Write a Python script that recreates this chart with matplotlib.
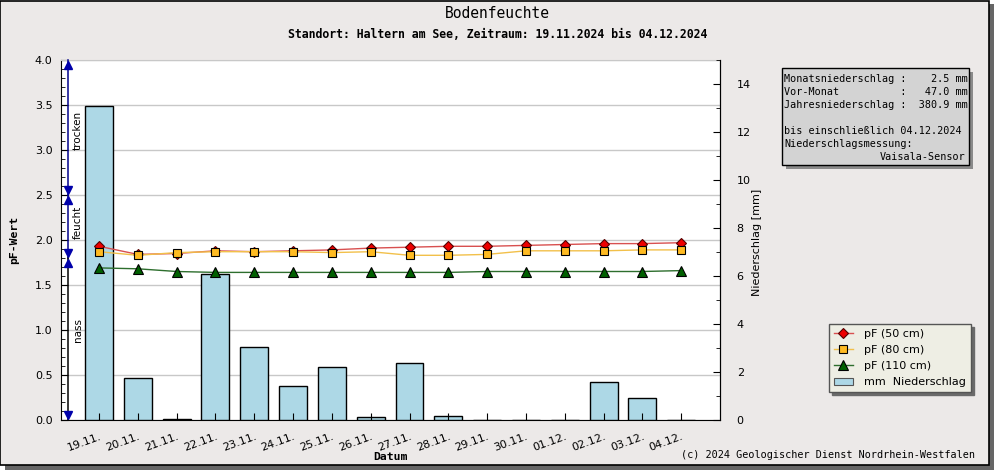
import matplotlib
matplotlib.use('Agg')
import matplotlib.pyplot as plt
from matplotlib.patches import Rectangle, Patch
from matplotlib.ticker import MultipleLocator
from matplotlib.lines import Line2D

# ---------------- data ----------------
dates = ['19.11.', '20.11.', '21.11.', '22.11.', '23.11.', '24.11.', '25.11.', '26.11.',
         '27.11.', '28.11.', '29.11.', '30.11.', '01.12.', '02.12.', '03.12.', '04.12.']
precip_mm = [13.07, 1.74, 0.04, 6.07, 3.03, 1.40, 2.20, 0.11,
             2.36, 0.15, 0.0, 0.0, 0.0, 1.6, 0.9, 0.0]
pf_50 = [1.93, 1.84, 1.85, 1.88, 1.87, 1.88, 1.89, 1.91,
         1.92, 1.93, 1.93, 1.94, 1.95, 1.96, 1.96, 1.97]
pf_80 = [1.87, 1.83, 1.86, 1.87, 1.87, 1.87, 1.86, 1.87,
         1.83, 1.83, 1.84, 1.88, 1.88, 1.88, 1.89, 1.89]
pf_110 = [1.69, 1.68, 1.65, 1.64, 1.64, 1.64, 1.64, 1.64,
          1.64, 1.64, 1.65, 1.65, 1.65, 1.65, 1.65, 1.66]
info_lines = ['Monatsniederschlag :    2.5 mm',
              'Vor-Monat          :   47.0 mm',
              'Jahresniederschlag :  380.9 mm',
              '',
              'bis einschließlich 04.12.2024',
              'Niederschlagsmessung:']
info_right = 'Vaisala-Sensor'
classes = [('trocken', 2.5, 4.0, 3.22), ('feucht', 1.8, 2.5, 2.2), ('nass', 0.0, 1.8, 1.0)]

W, H = 995, 470
BG = '#ECE9E8'
MONO = 'DejaVu Sans Mono'
SANS = 'DejaVu Sans'

fig = plt.figure(figsize=(W / 100, H / 100), dpi=100)
fig.patch.set_facecolor('white')

def fx(px):
    return px / W

def fy(py):
    return 1 - py / H

# frame + shadow
fig.patches.append(Rectangle((fx(5), 0), fx(990), (H - 4) / H, transform=fig.transFigure,
                             facecolor='#666666', edgecolor='none', zorder=-10))
fig.patches.append(Rectangle((0.0005, fy(465)), fx(989), 465 / H - 0.002, transform=fig.transFigure,
                             facecolor=BG, edgecolor='black', linewidth=1.2, zorder=-9))

# axes
L, R, T, B = 61, 720, 60, 420
rect = [fx(L), fy(B), fx(R - L), (B - T) / H]
ax = fig.add_axes(rect)
ax.set_facecolor('white')
ax2 = ax.twinx()
ax3 = ax.twinx()
ax.set_zorder(1)
ax2.set_zorder(2)
ax3.set_zorder(3)
ax2.patch.set_visible(False)
ax3.patch.set_visible(False)

x = list(range(len(dates)))
ax.set_xlim(-0.98, 16.0)
ax.set_ylim(0, 4.0)
ax2.set_ylim(0, 15)
ax3.set_ylim(0, 4.0)

# grid
ax.yaxis.set_major_locator(MultipleLocator(0.5))
ax.yaxis.set_minor_locator(MultipleLocator(0.1))
ax.grid(axis='y', color='#c8c8c8', linewidth=1)
ax.set_axisbelow(True)
ax.tick_params(axis='y', which='major', direction='in', length=5, labelsize=8, pad=6)
ax.tick_params(axis='y', which='minor', direction='in', length=3)
ax.set_yticklabels([f'{v:.1f}' for v in ax.get_yticks()])
ax.set_xticks(x)
ax.set_xticklabels(dates, rotation=20, ha='right', va='top', rotation_mode='anchor', fontsize=8)
ax.tick_params(axis='x', direction='in', length=0, pad=8)
for s in ['left', 'bottom', 'right']:
    ax.spines[s].set_color('black')
ax.spines['top'].set_color('#c8c8c8')

# bars
ax2.bar(x, precip_mm, width=0.72, color='#ADD8E6', edgecolor='black', linewidth=1)
ax2.yaxis.set_major_locator(MultipleLocator(2))
ax2.yaxis.set_minor_locator(MultipleLocator(1))
ax2.tick_params(axis='y', which='major', direction='in', length=5, labelsize=8, pad=12)
ax2.tick_params(axis='y', which='minor', direction='in', length=3)
for s in ax2.spines.values():
    s.set_visible(False)
ax2.spines['right'].set_visible(True)

# lines (top layer, also carries the x ticks so they show over bars)
for s in ax3.spines.values():
    s.set_visible(False)
ax3.yaxis.set_visible(False)
ax3.xaxis.set_visible(True)
ax3.set_xticks(x)
ax3.tick_params(axis='x', direction='in', length=5, labelbottom=False, bottom=True)
ax3.plot(x, pf_50, color='#d85050', lw=1, marker='D', ms=5.5, mfc='#ee0000', mec='#550000', mew=0.8)
ax3.plot(x, pf_80, color='#f2c04a', lw=1, marker='s', ms=6.2, mfc='#ffbb22', mec='black', mew=0.8)
ax3.plot(x, pf_110, color='#2d6e2d', lw=1, marker='^', ms=7, mfc='#006000', mec='black', mew=0.8)

# class arrows on left
ax_x = -0.80
tri = 0.055
for name, lo, hi, ty in classes:
    lc = 'black' if name == 'nass' else '#00008b'
    ax3.plot([ax_x, ax_x], [lo, hi], color=lc, lw=1.1, clip_on=False, zorder=5)
    ax3.plot([ax_x], [hi - tri], marker='^', ms=6, color='#0000aa', clip_on=False, zorder=6)
    ax3.plot([ax_x], [lo + tri], marker='v', ms=6, color='#0000aa', clip_on=False, zorder=6)
    ax3.text(ax_x + 0.25, ty, name, rotation=90,
             ha='center', va='center', fontsize=7.5, family=SANS, zorder=6)

# texts
fig.text(0.5, fy(14), 'Bodenfeuchte', ha='center', va='center', fontsize=10.5, family=MONO)
fig.text(0.5, fy(34), 'Standort: Haltern am See, Zeitraum: 19.11.2024 bis 04.12.2024',
         ha='center', va='center', fontsize=8.3, family=MONO, fontweight='bold')
fig.text(fx(14), fy(240), 'pF-Wert', rotation=90, ha='center', va='center', fontsize=8.2,
         family=MONO, fontweight='bold')
fig.text(fx(757), fy(242), 'Niederschlag [mm]', rotation=90, ha='center', va='center',
         fontsize=8, family=SANS)
fig.text(fx(390), fy(457), 'Datum', ha='center', va='center', fontsize=8.2, family=MONO,
         fontweight='bold')
fig.text(fx(975), fy(455), '(c) 2024 Geologischer Dienst Nordrhein-Westfalen', ha='right',
         va='center', fontsize=7.3, family=MONO)

# info box
bx0, by0, bx1, by1 = 782, 68, 969, 165
fig.patches.append(Rectangle((fx(bx0 + 4), fy(by1 + 4)), fx(bx1 - bx0), (by1 - by0) / H,
                             transform=fig.transFigure, facecolor='#8a8a8a', edgecolor='none', zorder=1))
fig.patches.append(Rectangle((fx(bx0), fy(by1)), fx(bx1 - bx0), (by1 - by0) / H,
                             transform=fig.transFigure, facecolor='#D3D3D3', edgecolor='black',
                             linewidth=1, zorder=2))
for i, line in enumerate(info_lines):
    fig.text(fx(784), fy(79 + 13 * i), line, ha='left', va='center', fontsize=7.3, family=MONO, zorder=3)
fig.text(fx(965), fy(79 + 13 * 6), info_right, ha='right', va='center', fontsize=7.3, family=MONO, zorder=3)

# legend
handles = [
    Line2D([], [], color='#d85050', lw=1, marker='D', ms=5.5, mfc='#ee0000', mec='#550000', mew=0.8),
    Line2D([], [], color='#f2c04a', lw=1, marker='s', ms=6.2, mfc='#ffbb22', mec='black', mew=0.8),
    Line2D([], [], color='#2d6e2d', lw=1, marker='^', ms=7, mfc='#006000', mec='black', mew=0.8),
    Patch(facecolor='#ADD8E6', edgecolor='#555555', linewidth=0.8),
]
labels = ['pF (50 cm)', 'pF (80 cm)', 'pF (110 cm)', 'mm  Niederschlag']
leg = fig.legend(handles, labels, loc='upper left', bbox_to_anchor=(fx(829), fy(324)),
                 bbox_transform=fig.transFigure, fancybox=False, frameon=True,
                 shadow={'color': '#6a6a6a', 'alpha': 1}, fontsize=8, handlelength=1.7,
                 handletextpad=1.0, labelspacing=0.55, borderpad=0.45, borderaxespad=0,
                 edgecolor='#555555', facecolor='#EEEEE4', framealpha=1)
leg.get_frame().set_linewidth(1)

fig.savefig('out.png', dpi=100, facecolor=fig.get_facecolor())
